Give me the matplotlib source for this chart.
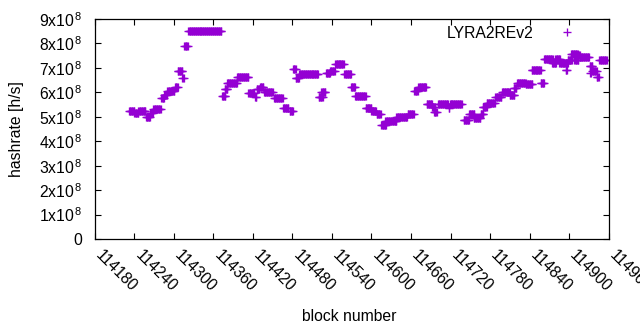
import matplotlib
matplotlib.use("Agg")
import matplotlib.pyplot as plt
import numpy as np

plt.rcParams['font.family'] = ['Liberation Sans', 'DejaVu Sans']
plt.rcParams['mathtext.fontset'] = 'custom'
plt.rcParams['mathtext.rm'] = 'Liberation Sans'
plt.rcParams['mathtext.it'] = 'Liberation Sans'
plt.rcParams['mathtext.bf'] = 'Liberation Sans'

series_name = "LYRA2REv2"

# Data read off the chart as runs of consecutive blocks sharing one hashrate
# value (units of 1e8 h/s): first block, last block, value.
run_first_block = [
    114232, 114240, 114246, 114258, 114264, 114269, 114281, 114285, 114290,
    114302, 114306, 114313, 114316, 114322, 114373, 114377, 114381, 114396,
    114413, 114423, 114426, 114431, 114437, 114452, 114466, 114476, 114481,
    114485, 114490, 114520, 114524, 114531, 114537, 114545, 114559, 114569,
    114575, 114591, 114600, 114608, 114615, 114621, 114638, 114655, 114665,
    114671, 114684, 114692, 114695, 114701, 114717, 114719, 114740, 114748,
    114755, 114766, 114769, 114775, 114788, 114798, 114810, 114816, 114821,
    114834, 114843, 114857, 114862, 114874, 114879, 114885, 114895, 114898,
    114903, 114908, 114910, 114916, 114931, 114932, 114935, 114942, 114946,
]
run_last_block = [
    114240, 114246, 114257, 114264, 114268, 114280, 114285, 114289, 114301,
    114306, 114313, 114315, 114321, 114372, 114378, 114381, 114396, 114413,
    114422, 114425, 114430, 114436, 114450, 114465, 114474, 114481, 114485,
    114490, 114519, 114526, 114530, 114537, 114544, 114558, 114569, 114575,
    114591, 114600, 114607, 114614, 114622, 114638, 114654, 114664, 114670,
    114683, 114692, 114696, 114699, 114716, 114718, 114737, 114748, 114756,
    114765, 114770, 114775, 114787, 114797, 114810, 114817, 114820, 114834,
    114844, 114857, 114862, 114875, 114880, 114886, 114898, 114897, 114904,
    114913, 114914, 114916, 114930, 114935, 114933, 114942, 114945, 114957,
]
run_hashrate_e8 = [
    5.22, 5.14, 5.24, 5.00, 5.14, 5.30, 5.78, 5.89, 6.07,
    6.20, 6.87, 6.57, 7.90, 8.50, 5.87, 6.12, 6.40, 6.62,
    5.96, 5.80, 6.12, 6.20, 6.00, 5.76, 5.35, 5.24, 6.94,
    6.60, 6.74, 5.81, 6.00, 6.78, 6.89, 7.15, 6.75, 6.20,
    5.87, 5.35, 5.22, 5.10, 4.66, 4.83, 4.98, 5.11, 6.07,
    6.23, 5.52, 5.41, 5.18, 5.52, 5.35, 5.52, 4.87, 5.11,
    4.96, 5.12, 5.41, 5.55, 5.82, 6.03, 5.89, 6.19, 6.37,
    6.34, 6.90, 6.37, 7.36, 7.21, 7.35, 7.19, 6.91, 7.32,
    7.57, 7.32, 7.53, 7.43, 7.08, 6.78, 6.87, 6.64, 7.32,
]

x_ticks = [114180 + 60 * i for i in range(14)]
x_tick_labels = [str(t) for t in x_ticks]
y_ticks = [i * 1e8 for i in range(10)]
y_tick_labels = ["0"] + [r"%dx10$^{\,8}$" % i for i in range(1, 10)]

color = "#9400D3"

# one point per block within each run
blocks = []
hashrate = []
for b0, b1, v in zip(run_first_block, run_last_block, run_hashrate_e8):
    for b in range(b0, b1 + 1):
        blocks.append(b)
        hashrate.append(v * 1e8)

fig = plt.figure(figsize=(6.4, 3.3), dpi=100)
L, R, T, B = 94.75, 609.3, 19.0, 239.0
W, H = R - L, B - T
ax = fig.add_axes([L / 640, 1 - B / 330, W / 640, H / 330])

ax.plot(blocks, hashrate, linestyle='none', marker='+',
        markersize=6.0, markeredgewidth=0.95, color=color, label=series_name)

ax.set_xlim(114180, 114961)
ax.set_ylim(0, 9e8)
ax.set_xticks(x_ticks)
ax.set_xticklabels(x_tick_labels, rotation=-45, ha='left', va='baseline',
                   rotation_mode='anchor', fontsize=11.3)
ax.set_yticks(y_ticks)
ax.set_yticklabels(y_tick_labels, fontsize=11.3)
ax.tick_params(direction='in', top=True, right=True, length=4.3, width=0.8)
ax.tick_params(axis='y', pad=9)
ax.tick_params(axis='x', pad=12.5)
for s in ax.spines.values():
    s.set_linewidth(0.9)
    s.set_color('black')

ax.set_xlabel("block number", fontsize=11.3)
ax.set_ylabel("hashrate [h/s]", fontsize=11.3)
ax.xaxis.set_label_coords((349 - L) / W, (B - 309) / H)
ax.yaxis.set_label_coords((24 - L) / W, (B - 129) / H)

ax.legend(loc='upper right', frameon=False, markerfirst=False,
          fontsize=11.3, handlelength=2.0, handletextpad=1.17,
          borderaxespad=0, borderpad=0,
          bbox_to_anchor=(583 / 640, 1 - 25.5 / 330),
          bbox_transform=fig.transFigure)

fig.savefig("out.png", dpi=100)
